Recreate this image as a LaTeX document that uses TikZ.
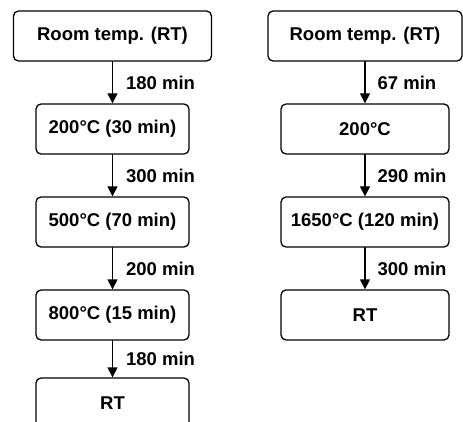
\documentclass[tikz,border=0pt]{standalone}
\usepackage{fontspec}
\setmainfont{Liberation Sans}
\usetikzlibrary{arrows.meta}
\begin{document}
\begin{tikzpicture}[x=1pt, y=-1pt, line cap=round, line join=round,
    font=\fontsize{18.5}{22}\selectfont\bfseries,
    wide/.style={draw, line width=1.3pt, rounded corners=5pt, inner sep=0pt,
      minimum width=198pt, minimum height=50pt},
    box/.style={draw, line width=1.3pt, rounded corners=5pt, inner sep=0pt,
      minimum width=153pt, minimum height=50pt},
    rbox/.style={box, minimum width=168pt},
    flow/.style={line width=1.3pt, -{Triangle[width=10pt,length=10pt]}},
    lab/.style={right, inner sep=0pt, xshift=13pt}]
  \useasboundingbox (0,0) rectangle (463,422);
  \node[wide] (lRT) at (112.5,36) {Room temp. (RT)};
  \node[box] (l200) at (112.5,129) {200°C (30 min)};
  \node[box] (l500) at (112.5,222) {500°C (70 min)};
  \node[box] (l800) at (112.5,315) {800°C (15 min)};
  \node[box] (lEnd) at (112.5,403) {RT};
  \draw[flow] (lRT) -- node[lab] {180 min} (l200);
  \draw[flow] (l200) -- node[lab] {300 min} (l500);
  \draw[flow] (l500) -- node[lab] {200 min} (l800);
  \draw[flow] (l800) -- node[lab] {180 min} (lEnd);
  \node[wide, minimum width=194pt] (rRT) at (365,36) {Room temp. (RT)};
  \node[rbox] (r200) at (365,129) {200°C};
  \node[rbox] (r1650) at (365,222) {1650°C (120 min)};
  \node[rbox] (rEnd) at (365,315) {RT};
  \draw[flow] (rRT) -- node[lab, xshift=-1pt] {67 min} (r200);
  \draw[flow] (r200) -- node[lab, xshift=-1pt] {290 min} (r1650);
  \draw[flow] (r1650) -- node[lab, xshift=-1pt] {300 min} (rEnd);
\end{tikzpicture}
\end{document}
